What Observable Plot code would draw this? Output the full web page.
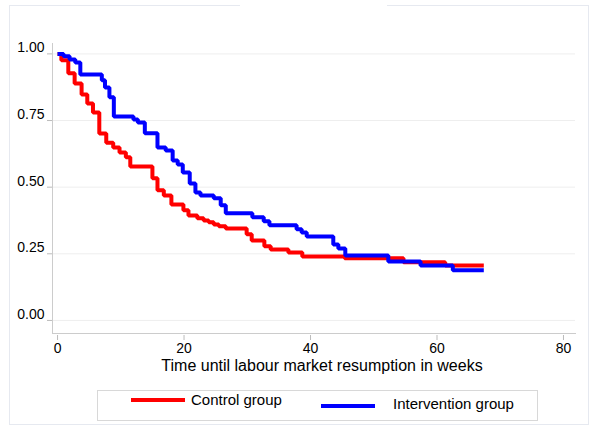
<!DOCTYPE html>
<html>
<head>
<meta charset="utf-8">
<script src="https://cdn.jsdelivr.net/npm/d3@7"></script>
<script src="https://cdn.jsdelivr.net/npm/@observablehq/plot@0.6"></script>
<style>
  html, body { margin: 0; padding: 0; background: #fff; }
  #wrap { position: relative; width: 600px; height: 437px; overflow: hidden; font-family: "Liberation Sans", Arial, sans-serif; }
  #border { position: absolute; left: 9px; top: 5px; width: 580px; height: 420px; border: 1px solid #e6e9f0; box-sizing: border-box; }
  #gap { position: absolute; left: 240px; top: 3px; width: 147px; height: 4px; background: #fff; }
  #chart { position: absolute; left: 0; top: 0; }
  #legend { position: absolute; left: 97px; top: 390px; width: 441px; height: 31px; border: 1px solid #d8d8d8; box-sizing: border-box; }
  .sw { position: absolute; height: 4px; width: 54px; }
  .lt { position: absolute; font-size: 15px; color: #000; white-space: nowrap; line-height: 16px; }
</style>
</head>
<body>
<div id="wrap">
  <div id="border"></div>
  <div id="gap"></div>
  <div id="chart"></div>
  <div id="legend"></div>
</div>
<script>
// Series names and colours
const groups = ["Control group", "Intervention group"];
const colors = ["#ff0000", "#0000ff"];

// Control group: step times (weeks) and survival values
const controlTime = [0, 0.6, 1.7, 2.7, 3.8, 4.7, 5.6, 6.6, 7.7, 8.8, 9.8, 10.8, 11.5, 15.0, 15.8, 16.8, 18.0, 19.9, 20.7, 22.1, 23.1, 23.9, 24.7, 25.5, 26.6, 29.9, 30.7, 32.7, 33.7, 36.5, 38.7, 45.4, 54.7, 61.3, 67.4];
const controlSurv = [1.0, 0.976, 0.927, 0.889, 0.848, 0.814, 0.780, 0.701, 0.667, 0.649, 0.630, 0.612, 0.578, 0.533, 0.488, 0.469, 0.435, 0.413, 0.394, 0.383, 0.375, 0.368, 0.360, 0.353, 0.345, 0.323, 0.300, 0.278, 0.266, 0.255, 0.240, 0.233, 0.218, 0.206, 0.206];

// Intervention group: step times (weeks) and survival values
const interventionTime = [0, 0.95, 1.9, 2.8, 3.6, 7.0, 7.5, 8.2, 8.9, 12.0, 12.7, 13.8, 15.8, 17.1, 18.2, 19.0, 19.8, 20.9, 21.8, 22.6, 24.7, 25.8, 26.6, 30.8, 32.6, 33.5, 37.8, 38.6, 39.4, 43.6, 44.4, 45.5, 52.3, 57.4, 62.5, 67.4];
const interventionSurv = [1.0, 0.991, 0.979, 0.968, 0.923, 0.901, 0.874, 0.837, 0.765, 0.754, 0.743, 0.702, 0.649, 0.638, 0.600, 0.585, 0.555, 0.514, 0.480, 0.469, 0.458, 0.432, 0.402, 0.387, 0.372, 0.357, 0.342, 0.330, 0.315, 0.285, 0.270, 0.244, 0.221, 0.206, 0.188, 0.188];

// Axis ticks and title
const xTicks = [0, 20, 40, 60, 80];
const yTicks = [0, 0.25, 0.5, 0.75, 1];
const xTitle = "Time until labour market resumption in weeks";

const rows = [
  ...controlTime.map((t, i) => ({group: groups[0], t, s: controlSurv[i]})),
  ...interventionTime.map((t, i) => ({group: groups[1], t, s: interventionSurv[i]}))
];

const chart = Plot.plot({
  width: 600,
  height: 380,
  marginLeft: 52,
  marginRight: 25,
  marginTop: 43,
  marginBottom: 47,
  style: {fontFamily: "'Liberation Sans', Arial, sans-serif", fontSize: "14px", color: "#000", background: "transparent"},
  x: {domain: [-0.8, 81.9]},
  y: {domain: [-0.049, 1.039]},
  color: {domain: groups, range: colors},
  marks: [
    Plot.gridY(yTicks, {stroke: "#eeeeee", strokeOpacity: 1}),
    Plot.frame({anchor: "left", stroke: "#cccccc"}),
    Plot.frame({anchor: "bottom", stroke: "#cccccc"}),
    Plot.axisY({ticks: yTicks, tickFormat: () => "", tickSize: 5, stroke: "#bbbbbb", label: null}),
    Plot.axisY({ticks: yTicks, tickFormat: d3.format(".2f"), tickSize: 0, tickPadding: 8, fill: "#000", label: null, dy: -6}),
    Plot.axisX({ticks: xTicks, tickSize: 5, tickPadding: 3, stroke: "#bbbbbb", fill: "#000", label: null, dy: 2}),
    Plot.text([xTitle], {frameAnchor: "bottom", dx: 8, dy: 37, fontSize: 16, fill: "#000", text: d => d}),
    Plot.line(rows, {x: "t", y: "s", stroke: "group", z: "group", curve: "step-after", strokeWidth: 4, strokeLinejoin: "miter", strokeLinecap: "butt"})
  ]
});
document.getElementById("chart").appendChild(chart);

// Legend
const legend = document.getElementById("legend");
const swLeft = [33, 223];
const swTop = [7, 13];
const txtLeft = [93, 295];
const txtTop = [1, 5];
groups.forEach((g, i) => {
  const sw = document.createElement("div");
  sw.className = "sw";
  sw.style.left = swLeft[i] + "px";
  sw.style.top = swTop[i] + "px";
  sw.style.background = colors[i];
  legend.appendChild(sw);
  const tx = document.createElement("div");
  tx.className = "lt";
  tx.style.left = txtLeft[i] + "px";
  tx.style.top = txtTop[i] + "px";
  tx.textContent = g;
  legend.appendChild(tx);
});
</script>
</body>
</html>
